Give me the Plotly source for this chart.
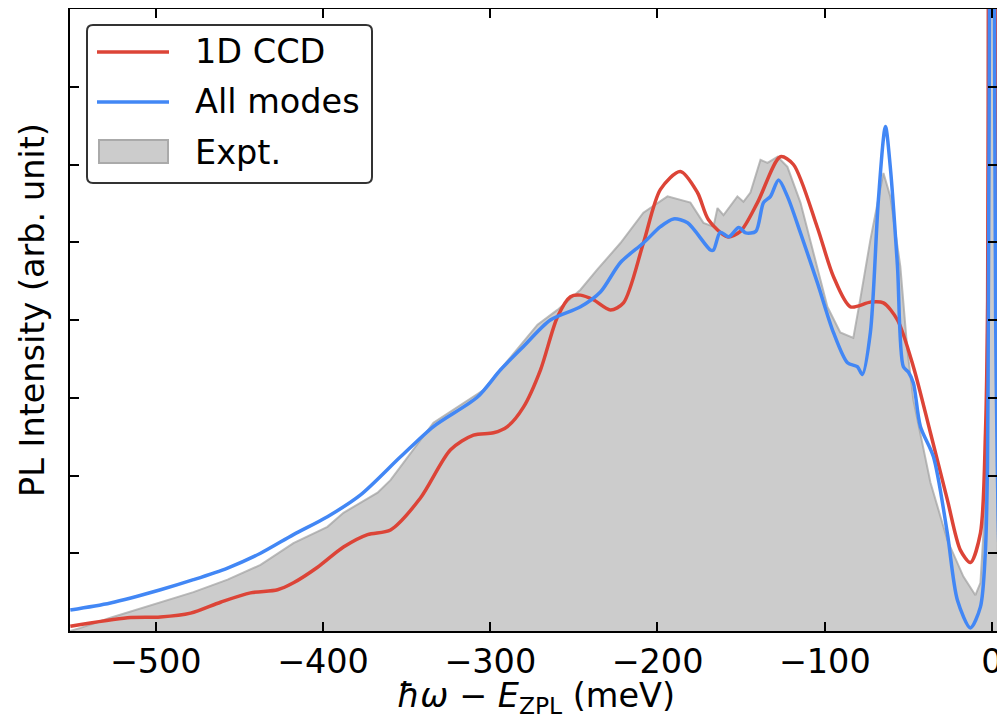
import plotly.graph_objects as go

# ---- data (x in meV, y in arb. units) ----
ccd_x = [-551, -516.8, -497.1, -479.1, -461.2, -443.3, -427.1, -417.6, -403.2, -387.7,
         -373.3, -359.6, -341.7, -323.7, -310.0, -298.0, -289.7, -280.1, -269.9, -259.8,
         -252.0, -246.0, -238.3, -228.1, -220.3, -208.4, -198.2, -186.3, -176.1, -169.5,
         -158.2, -150.4, -140.2, -126.5, -118.7, -104.4, -94.8, -84.6, -72.7, -64.9,
         -56.5, -47.0, -36.8, -26.7, -18.9, -12.9, -6.9, -3.9, -2.6, -2.2,
         -1.2, 0.0, 1.2, 2.2, 3.2, 4.5, 6.0, 8.0]
ccd_y = [0.06, 0.17, 0.18, 0.23, 0.37, 0.49, 0.53, 0.62, 0.82, 1.08,
         1.24, 1.30, 1.71, 2.33, 2.52, 2.55, 2.63, 2.88, 3.36, 4.04,
         4.30, 4.32, 4.26, 4.13, 4.22, 4.99, 5.68, 5.91, 5.64, 5.29,
         5.07, 5.14, 5.51, 6.10, 6.00, 5.19, 4.56, 4.17, 4.23, 4.22,
         4.00, 3.40, 2.55, 1.69, 1.04, 0.88, 1.26, 2.55, 4.26, 8.0,
         20.0, 30.0, 20.0, 8.0, 4.3, 2.5, 1.4, 1.0]

all_x = [-551, -527.0, -497.1, -477.4, -457.0, -437.3, -417.6, -397.3, -377.5, -353.6,
         -333.9, -307.6, -293.8, -280.1, -264.0, -246.0, -234.1, -222.1, -208.4, -198.2,
         -190.4, -182.0, -168.3, -166.5, -162.4, -157.4, -151.4, -147.2, -141.2, -136.6,
         -132.4, -127.6, -122.3, -114.5, -104.4, -94.8, -86.4, -80.5, -77.5, -72.7,
         -67.9, -63.7, -60.8, -56.5, -53.0, -50.0, -47.0, -42.8, -35.0, -26.7,
         -20.7, -12.9, -6.9, -4.0, -2.7, -2.2, -1.5, -0.8, 0.0, 0.8,
         1.5, 2.2, 3.2, 4.5, 6.0, 8.0]
all_y = [0.27, 0.36, 0.53, 0.66, 0.81, 1.00, 1.24, 1.47, 1.75, 2.24,
         2.63, 3.01, 3.36, 3.66, 4.00, 4.17, 4.36, 4.74, 4.99, 5.20,
         5.30, 5.25, 4.90, 4.90, 5.13, 5.07, 5.19, 5.12, 5.14, 5.51,
         5.59, 5.80, 5.59, 5.12, 4.48, 3.84, 3.45, 3.40, 3.30, 3.84,
         5.55, 6.49, 5.97, 4.69, 3.40, 3.33, 3.19, 2.63, 2.24, 1.26,
         0.40, 0.04, 0.31, 1.00, 2.11, 4.00, 8.0, 20.0, 40.0, 20.0,
         8.0, 4.0, 2.1, 0.80, 0.23, 0.10]

exp_x = [-551, -544.9, -527.0, -507.3, -477.4, -457.0, -437.3, -417.6, -397.3, -387.7,
         -367.3, -359.6, -333.9, -304.0, -283.7, -271.7, -259.8, -246.0, -235.9, -222.1,
         -208.4, -194.0, -180.3, -172.5, -166.5, -164.1, -160.5, -152.2, -148.6, -144.4,
         -138.4, -134.2, -128.2, -122.3, -114.5, -108.6, -104.4, -98.4, -90.7, -82.9,
         -78.8, -72.7, -64.9, -60.8, -54.8, -50.6, -47.0, -36.8, -26.7, -17.1,
         -9.9, -6.9, -3.9, -2.5, -1.2, 0.0, 1.2, 2.5, 3.5, 5.0, 8.0]
exp_y = [0.0, 0.04, 0.17, 0.30, 0.50, 0.66, 0.85, 1.13, 1.34, 1.52,
         1.78, 1.94, 2.68, 3.10, 3.62, 3.94, 4.13, 4.39, 4.65, 4.99,
         5.38, 5.59, 5.51, 5.25, 5.20, 5.44, 5.35, 5.59, 5.52, 5.64,
         6.06, 6.02, 6.10, 5.97, 5.51, 5.03, 4.69, 4.17, 3.84, 3.77,
         4.26, 5.03, 5.89, 5.59, 4.69, 3.62, 2.97, 1.91, 1.17, 0.70,
         0.46, 0.62, 1.69, 5.0, 15.0, 25.0, 15.0, 4.0, 1.0, 0.10, 0.05]

x_ticks = [-500, -400, -300, -200, -100, 0]
x_tick_text = ["\u2212500", "\u2212400", "\u2212300", "\u2212200", "\u2212100", "0"]
y_ticks = [0, 1, 2, 3, 4, 5, 6, 7, 8]

RED = "#dc4437"
BLUE = "#4287f5"
GREY_FILL = "#cccccc"
GREY_EDGE = "rgba(160,160,160,0.7)"
FONT = "DejaVu Sans"
FS = 33.5

# the page body adds an 8px margin, the figure fills the rest of the window width
PAGE_OFF = 8
W, H = 1005 - 2 * PAGE_OFF, 719 - PAGE_OFF
# plot area in page pixels
L, R, T, B = 70, 997, 9, 631


def px(x):
    return (x - L) / (R - L)


def py(y):
    return (B - y) / (B - T)


fig = go.Figure()

fig.add_trace(go.Scatter(x=exp_x, y=exp_y, name="Expt.", mode="lines",
                         fill="tozeroy", fillcolor=GREY_FILL,
                         line=dict(color=GREY_EDGE, width=2)))
fig.add_trace(go.Scatter(x=ccd_x, y=ccd_y, name="1D CCD", mode="lines",
                         line=dict(color=RED, width=3.5, shape="spline", smoothing=0.8)))
fig.add_trace(go.Scatter(x=all_x, y=all_y, name="All modes", mode="lines",
                         line=dict(color=BLUE, width=3.5, shape="spline", smoothing=0.8)))
# invisible trace so the right-hand tick axis gets drawn
fig.add_trace(go.Scatter(x=[x_ticks[0]], y=[0], yaxis="y2", mode="markers",
                         marker=dict(opacity=0), hoverinfo="skip", showlegend=False))

# legend drawn by hand (matplotlib style rounded frame, long line samples)
x0, x1, y0, y1, r = 87, 372, 25, 183, 6
path = (f"M {px(x0 + r)},{py(y0)} L {px(x1 - r)},{py(y0)} "
        f"Q {px(x1)},{py(y0)} {px(x1)},{py(y0 + r)} "
        f"L {px(x1)},{py(y1 - r)} Q {px(x1)},{py(y1)} {px(x1 - r)},{py(y1)} "
        f"L {px(x0 + r)},{py(y1)} Q {px(x0)},{py(y1)} {px(x0)},{py(y1 - r)} "
        f"L {px(x0)},{py(y0 + r)} Q {px(x0)},{py(y0)} {px(x0 + r)},{py(y0)} Z")
shapes = [dict(type="path", path=path, xref="paper", yref="paper",
               line=dict(color="#333333", width=2), fillcolor="white", layer="above")]
for col, yy in [(RED, 52), (BLUE, 102)]:
    shapes.append(dict(type="line", xref="paper", yref="paper",
                       x0=px(97), x1=px(169), y0=py(yy), y1=py(yy),
                       line=dict(color=col, width=3.5), layer="above"))
shapes.append(dict(type="rect", xref="paper", yref="paper",
                   x0=px(99), x1=px(168), y0=py(140), y1=py(163),
                   fillcolor=GREY_FILL, line=dict(color="#aaaaaa", width=2), layer="above"))

annotations = []
for label, yy in [("1D CCD", 52), ("All modes", 102), ("Expt.", 152)]:
    annotations.append(dict(text=label, xref="paper", yref="paper", x=px(193), y=py(yy),
                            xanchor="left", yanchor="middle", showarrow=False,
                            font=dict(family=FONT, size=FS, color="black")))
annotations.append(dict(text="PL Intensity (arb. unit)", xref="paper", yref="paper",
                        x=px(32), y=py(310), textangle=-90, xanchor="center", yanchor="middle",
                        showarrow=False, font=dict(family=FONT, size=FS, color="black")))
annotations.append(dict(text="<i>ħω</i> − <i>E</i><sub>ZPL</sub> (meV)",
                        xref="paper", yref="paper", x=px(536), y=py(698),
                        xanchor="center", yanchor="middle", showarrow=False,
                        font=dict(family=FONT, size=FS, color="black")))

tick_style = dict(ticks="inside", ticklen=9, tickwidth=2, tickcolor="black",
                  showgrid=False, zeroline=False, automargin=False)

fig.update_layout(
    width=W, height=H,
    margin=dict(l=L - PAGE_OFF, r=0, t=T - PAGE_OFF, b=719 - B),
    plot_bgcolor="white", paper_bgcolor="white",
    showlegend=False,
    font=dict(family=FONT, size=FS, color="black"),
    shapes=shapes, annotations=annotations,
    xaxis=dict(range=[-551.2, 3.0], tickvals=x_ticks, ticktext=x_tick_text,
               showline=True, linewidth=2, linecolor="black", mirror="ticks",
               ticklabeloverflow="allow",
               tickfont=dict(family=FONT, size=FS), **tick_style),
    yaxis=dict(range=[0, 8], tickvals=y_ticks, showticklabels=False,
               showline=True, linewidth=2, linecolor="black", mirror=False,
               **tick_style),
    yaxis2=dict(range=[0, 8], tickvals=y_ticks, showticklabels=False,
                overlaying="y", side="right", showline=False, **tick_style),
)

fig.write_html("out.html")
